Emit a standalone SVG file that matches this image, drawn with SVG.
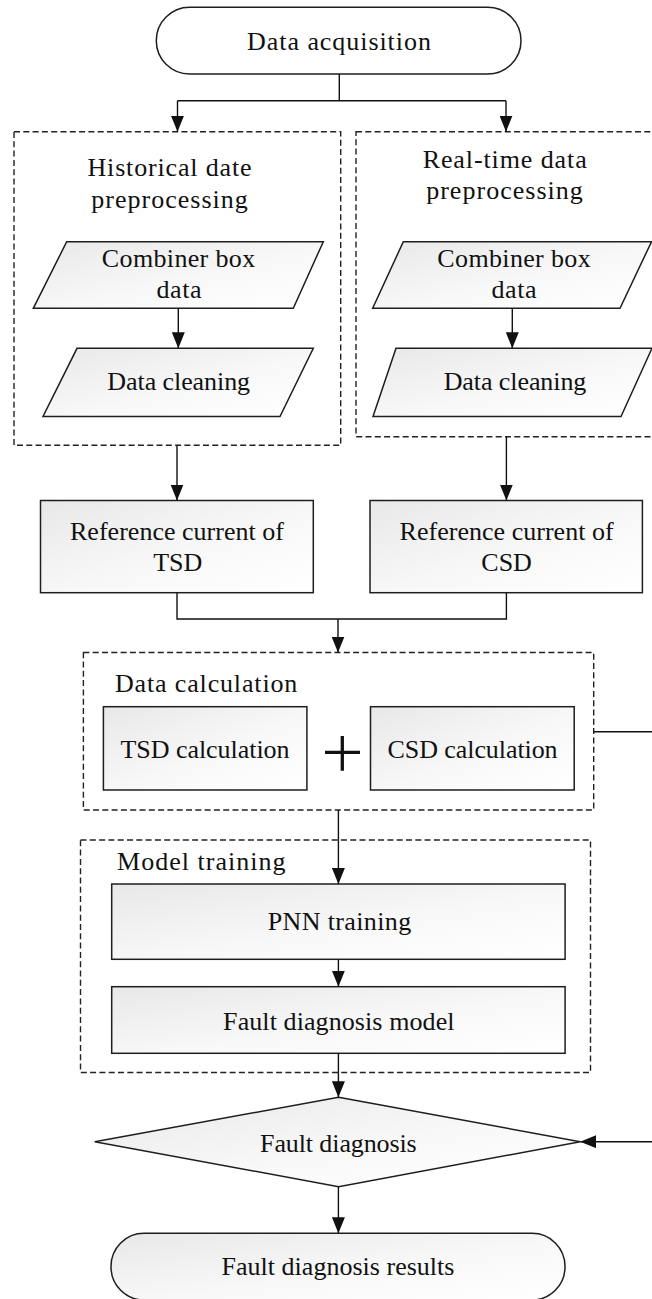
<svg xmlns="http://www.w3.org/2000/svg" width="652" height="1299" viewBox="0 0 652 1299">
  <defs>
    <linearGradient id="shade" x1="0" y1="0" x2="1" y2="1">
      <stop offset="0" stop-color="#e8e8e8"/>
      <stop offset="0.55" stop-color="#f8f8f8"/>
      <stop offset="1" stop-color="#ffffff"/>
    </linearGradient>
    <marker id="arrow" markerUnits="userSpaceOnUse" markerWidth="16" markerHeight="13" refX="16" refY="6.5" orient="auto">
      <path d="M0,0 L16,6.5 L0,13 z" fill="#111"/>
    </marker>
    <style>
      .shape { fill: url(#shade); stroke: #1e1e1e; stroke-width: 1.5; }
      .plain { fill: #ffffff; stroke: #1e1e1e; stroke-width: 1.5; }
      .group { fill: none; stroke: #222; stroke-width: 1.4; stroke-dasharray: 6 3.3; }
      .link { fill: none; stroke: #111; stroke-width: 1.4; }
      .arr { marker-end: url(#arrow); }
      text { font-family: "Liberation Serif", "Times New Roman", serif; font-size: 26px; fill: #111; }
      .c { text-anchor: middle; }
    </style>
  </defs>

  <rect width="652" height="1299" fill="#ffffff"/>

  <!-- dashed grouping frames -->
  <g id="group-historical">
    <rect class="group" x="14" y="131.7" width="326.7" height="313.5"/>
    <text class="c" x="169.5" y="176" textLength="164">Historical date</text>
    <text class="c" x="169.5" y="208" textLength="156.6">preprocessing</text>
  </g>
  <g id="group-realtime">
    <rect class="group" x="356" y="131.7" width="297" height="305"/>
    <text class="c" x="504.7" y="168" textLength="164">Real-time data</text>
    <text class="c" x="504.5" y="198.5" textLength="156.7">preprocessing</text>
  </g>
  <g id="group-calculation">
    <rect class="group" x="83.4" y="652.5" width="510.3" height="157.5"/>
    <text x="115" y="691.7" textLength="182.3">Data calculation</text>
  </g>
  <g id="group-training">
    <rect class="group" x="80.5" y="840" width="510" height="232.5"/>
    <text x="117" y="870" textLength="168.5">Model training</text>
  </g>

  <!-- nodes -->
  <g id="data-acquisition">
    <rect class="plain" x="156.3" y="7.3" width="364.7" height="66.7" rx="33.3" ry="33.3"/>
    <text class="c" x="339" y="50" textLength="183.8">Data acquisition</text>
  </g>

  <g id="hist-combiner">
    <polygon class="shape" points="66.7,241.7 323.3,241.7 293.3,308.3 33.3,308.3"/>
    <text class="c" x="178.5" y="266.5" textLength="153.3">Combiner box</text>
    <text class="c" x="179" y="298" textLength="45">data</text>
  </g>
  <g id="hist-cleaning">
    <polygon class="shape" points="77,348.3 313.3,348.3 280,416.5 43,416.5"/>
    <text class="c" x="178.7" y="390" textLength="142.7">Data cleaning</text>
  </g>

  <g id="rt-combiner">
    <polygon class="shape" points="403.3,241.7 651.5,241.7 620,308.3 372.7,308.3"/>
    <text class="c" x="514" y="266.5" textLength="153.3">Combiner box</text>
    <text class="c" x="514" y="298" textLength="45">data</text>
  </g>
  <g id="rt-cleaning">
    <polygon class="shape" points="396,348.3 652,348.3 621,416.5 373,416.5"/>
    <text class="c" x="515" y="390" textLength="142.7">Data cleaning</text>
  </g>

  <g id="ref-tsd">
    <rect class="shape" x="40.5" y="500.5" width="272.8" height="92.2"/>
    <text class="c" x="177" y="540" textLength="214">Reference current of</text>
    <text class="c" x="177.7" y="570.5">TSD</text>
  </g>
  <g id="ref-csd">
    <rect class="shape" x="370" y="500.5" width="272.4" height="92.2"/>
    <text class="c" x="506.6" y="540" textLength="214">Reference current of</text>
    <text class="c" x="506.6" y="570.5">CSD</text>
  </g>

  <g id="tsd-calc">
    <rect class="shape" x="103.4" y="706.7" width="203.5" height="83.3"/>
    <text class="c" x="205" y="757.7" textLength="169">TSD calculation</text>
  </g>
  <g id="plus">
    <path d="M325,752.3 H360 M342.3,736 V770.7" fill="none" stroke="#111" stroke-width="3.3"/>
  </g>
  <g id="csd-calc">
    <rect class="shape" x="370.5" y="706.7" width="203.7" height="83.3"/>
    <text class="c" x="472.6" y="757.7" textLength="170">CSD calculation</text>
  </g>

  <g id="pnn-training">
    <rect class="shape" x="111.7" y="884" width="453.4" height="75.3"/>
    <text class="c" x="339.4" y="930" textLength="143.5">PNN training</text>
  </g>
  <g id="diagnosis-model">
    <rect class="shape" x="111.7" y="986.7" width="453.4" height="66.6"/>
    <text class="c" x="338.8" y="1030" textLength="231.4">Fault diagnosis model</text>
  </g>

  <g id="fault-diagnosis">
    <polygon class="shape" points="338.6,1097.3 580.2,1141.7 338.6,1186.7 94.7,1141.7"/>
    <text class="c" x="338.4" y="1151.7" textLength="156.7">Fault diagnosis</text>
  </g>

  <g id="diagnosis-results">
    <rect class="shape" x="111" y="1233.3" width="454" height="66.7" rx="33" ry="33"/>
    <text class="c" x="338" y="1275" textLength="232.9">Fault diagnosis results</text>
  </g>

  <!-- connectors -->
  <g id="connectors">
    <path class="link" d="M339.3,74 V100.7 M177.5,100.7 H506"/>
    <path class="link arr" d="M177.5,100.7 V131.7"/>
    <path class="link arr" d="M506,100.7 V131.7"/>
    <path class="link arr" d="M178.3,308.3 V348.3"/>
    <path class="link arr" d="M512.3,308.3 V348.3"/>
    <path class="link arr" d="M177,445.2 V500.5"/>
    <path class="link arr" d="M506.4,436.7 V500.5"/>
    <path class="link" d="M177,592.7 V619 H506.4 V592.7"/>
    <path class="link arr" d="M338,619 V652.5"/>
    <path class="link arr" d="M338.4,810 V884"/>
    <path class="link arr" d="M338.4,959.3 V986.7"/>
    <path class="link arr" d="M338.4,1053.3 V1097.3"/>
    <path class="link arr" d="M338.4,1186.7 V1233.3"/>
    <path class="link arr" d="M593.7,731.7 H656 V1141.7 H580.2"/>
  </g>
</svg>
